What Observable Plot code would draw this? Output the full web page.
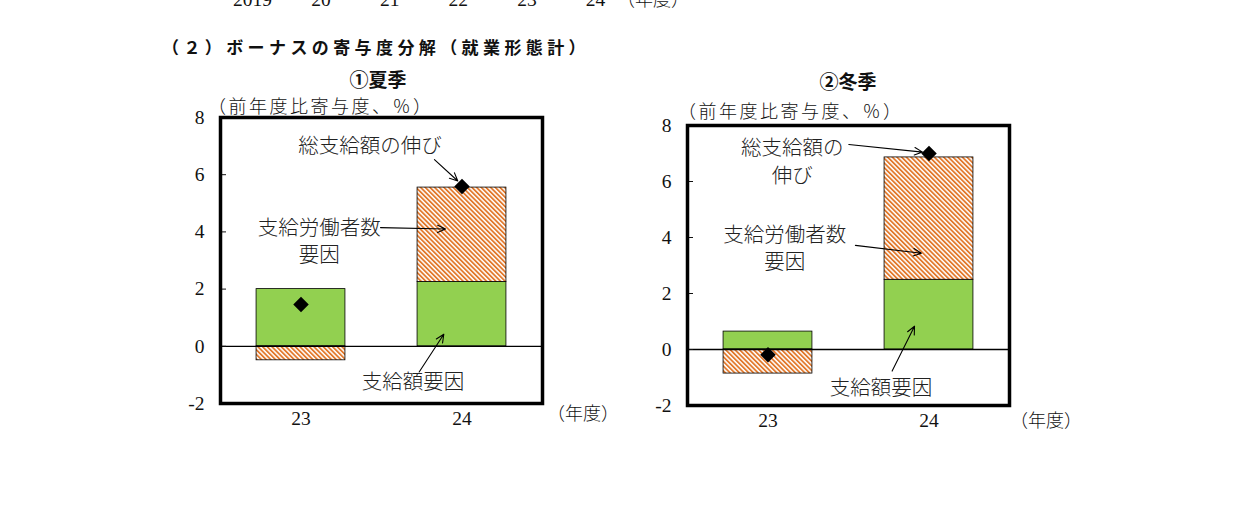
<!DOCTYPE html>
<html>
<head>
<meta charset="utf-8">
<script src="https://cdn.jsdelivr.net/npm/d3@7"></script>
<script src="https://cdn.jsdelivr.net/npm/@observablehq/plot@0.6"></script>
<style>
  html, body { margin: 0; padding: 0; background: #fff; }
  body { width: 1241px; height: 507px; position: relative; overflow: hidden; }
  .abs { position: absolute; white-space: pre; line-height: 20px; color: #111; }
  .title { font-family: "Noto Sans CJK JP", sans-serif; font-weight: bold; font-size: 17px; letter-spacing: 4.4px; }
  .sub { font-family: "Noto Sans CJK JP", sans-serif; font-weight: bold; font-size: 19px; text-align: center; width: 200px; }
  .unit { font-family: "Noto Sans CJK JP", sans-serif; font-size: 18px; letter-spacing: 2.5px; font-weight: 300; }
  .nendo { font-family: "Noto Sans CJK JP", sans-serif; font-size: 18px; font-weight: 300; }
  .plot { position: absolute; }
</style>
</head>
<body>
<svg width="0" height="0" style="position:absolute">
  <defs>
    <pattern id="hatch" patternUnits="userSpaceOnUse" width="3.3" height="3.3" patternTransform="rotate(-45)">
      <rect width="3.3" height="3.3" fill="#ffffff"></rect>
      <rect width="1.8" height="3.3" fill="#E2792C"></rect>
    </pattern>
  </defs>
</svg>

<div class="abs title" style="left:162px; top:37px;">（２）ボーナスの寄与度分解（就業形態計）</div>
<div class="abs sub" style="left:278px; top:69px;">①夏季</div>
<div class="abs sub" style="left:748px; top:71px;">②冬季</div>
<div class="abs unit" style="left:208px; top:95px;">（前年度比寄与度、％）</div>
<div class="abs unit" style="left:678px; top:100px;">（前年度比寄与度、％）</div>
<div class="abs nendo" style="left:547px; top:402px;">（年度）</div>
<div class="abs nendo" style="left:1010px; top:409px;">（年度）</div>
<div class="abs nendo" style="left:617px; top:-12px;">（年度）</div>

<div id="prev" class="plot" style="left:200px; top:-19px;"></div>
<div id="summer" class="plot" style="left:150px; top:100px;"></div>
<div id="winter" class="plot" style="left:617px; top:107px;"></div>

<script>
// ---- data ----
const years = [23, 24];
const summerAmount = [2.0, 2.25];    // 支給額要因
const summerWorkers = [-0.49, 3.30]; // 支給労働者数要因
const summerTotal = [1.46, 5.59];    // 総支給額の伸び
const winterAmount = [0.64, 2.49];
const winterWorkers = [-0.86, 4.37];
const winterTotal = [-0.19, 7.0];
const yTicks = [-2, 0, 2, 4, 6, 8];
const prevYears = [2019, 2020, 2021, 2022, 2023, 2024];
const prevLabels = ["2019", "20", "21", "22", "23", "24"];

// annotations (data units)
const summerLabels = ["総支給額の伸び", "支給労働者数\n要因", "支給額要因"];
const summerLabelAt = [[23.429, 7.06], [23.113, 3.72], [23.696, -1.19]];
const summerArrows = [[23.829, 6.53, 23.974, 5.78], [23.494, 4.15, 23.898, 4.10], [23.734, -0.90, 23.887, 0.42]];
const winterLabels = ["総支給額の\n伸び", "支給労働者数\n要因", "支給額要因"];
const winterLabelAt = [[23.15, 6.76], [23.104, 3.68], [23.702, -1.32]];
const winterArrows = [[23.502, 7.32, 23.96, 7.05], [23.543, 3.72, 23.953, 3.44], [23.771, -0.77, 23.91, 0.83]];

const GREEN = "#92D050";
const HATCH = "url(#hatch)";
const serif = "'Liberation Serif', 'DejaVu Serif', serif";
const jp = "'Noto Sans CJK JP', sans-serif";

function chart({amount, workers, total, labels, labelAt, arrows, height, marginTop, marginBottom}) {
  const halfW = 0.276;
  const rows = [];
  years.forEach((yr, i) => {
    rows.push({year: yr, kind: "amount", value: amount[i], fill: GREEN});
    rows.push({year: yr, kind: "workers", value: workers[i], fill: HATCH});
  });
  const totals = years.map((yr, i) => ({year: yr, total: total[i]}));
  const notes = labels.map((t, i) => ({text: t, x: labelAt[i][0], y: labelAt[i][1]}));
  const arr = arrows.map(a => ({x1: a[0], y1: a[1], x2: a[2], y2: a[3]}));
  return Plot.plot({
    width: 480,
    height,
    marginLeft: 70,
    marginRight: 88,
    marginTop,
    marginBottom,
    style: {fontFamily: serif, fontSize: "19.5px", color: "#111", background: "transparent", overflow: "visible"},
    x: {domain: [22.5, 24.5]},
    y: {domain: [-2, 8]},
    color: {type: "identity"},
    marks: [
      Plot.rectY(rows, {x1: d => d.year - halfW, x2: d => d.year + halfW, y: "value", fill: "fill", stroke: "black", strokeWidth: 0.8}),
      Plot.ruleY([0], {stroke: "black", strokeWidth: 1.3}),
      Plot.dot(totals, {x: "year", y: "total", symbol: "diamond2", r: 7, fill: "black", stroke: "none"}),
      Plot.arrow(arr, {x1: "x1", y1: "y1", x2: "x2", y2: "y2", stroke: "black", strokeWidth: 1.1, headLength: 12, headAngle: 50}),
      Plot.text(notes, {x: "x", y: "y", text: "text", fontSize: 20.5, fontFamily: jp, fontWeight: 300, fill: "#222", lineHeight: 1.33}),
      Plot.axisY({ticks: yTicks, tickSize: 6, dx: 6, tickFormat: () => "", strokeWidth: 1}),
      Plot.axisY({ticks: yTicks, tickSize: 0, tickPadding: 16, tickFormat: d => d < 0 ? "-" + Math.abs(d) : String(d), label: null, fontSize: 19.5}),
      Plot.axisX({ticks: years, tickSize: 0, tickPadding: 8, tickFormat: d => String(d), label: null, fontSize: 19.5}),
      Plot.frame({stroke: "black", strokeWidth: 3.5})
    ]
  });
}

document.getElementById("summer").appendChild(chart({
  amount: summerAmount, workers: summerWorkers, total: summerTotal,
  labels: summerLabels, labelAt: summerLabelAt, arrows: summerArrows,
  height: 340, marginTop: 17, marginBottom: 37
}));
document.getElementById("winter").appendChild(chart({
  amount: winterAmount, workers: winterWorkers, total: winterTotal,
  labels: winterLabels, labelAt: winterLabelAt, arrows: winterArrows,
  height: 340, marginTop: 18, marginBottom: 42
}));

// cut-off axis of the previous chart at the very top
document.getElementById("prev").appendChild(Plot.plot({
  width: 500,
  height: 30,
  marginLeft: 52,
  marginRight: 105,
  marginTop: 0,
  marginBottom: 22,
  style: {fontFamily: serif, fontSize: "19.5px", color: "#111", background: "transparent", overflow: "visible"},
  x: {domain: [2019, 2024]},
  y: {axis: null},
  marks: [
    Plot.axisX({ticks: prevYears, tickSize: 0, tickPadding: 3, tickFormat: (d, i) => prevLabels[i], label: null, fontSize: 19.5})
  ]
}));
</script>
</body>
</html>
